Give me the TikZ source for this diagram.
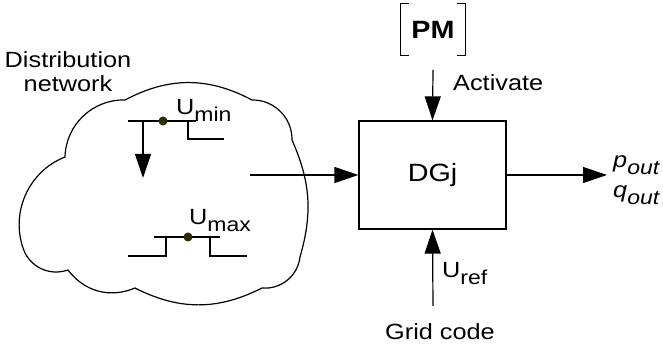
\documentclass[tikz,border=0pt]{standalone}
\usepackage{fontspec}
\setmainfont[FakeStretch=1.15]{Liberation Sans}
\usetikzlibrary{arrows.meta, positioning}
\definecolor{dotcol}{RGB}{45,42,0}
\newcommand{\lowsub}[1]{\raisebox{-7pt}{\fontsize{20}{20}\selectfont #1}}

\begin{document}
\begin{tikzpicture}[x=1pt, y=1pt,
      txt/.style={font=\fontsize{22}{24}\selectfont, inner sep=0pt},
      arr/.style={-{Triangle[length=24pt, width=16pt]}, line width=1.2pt},
      wire/.style={line width=1.2pt},
      busdot/.style={circle, fill=dotcol, inner sep=0pt, minimum size=9pt}
    ]
      \useasboundingbox (0,0) rectangle (663,347);
      % distribution network
      \draw[wire] (125,247) to[bend left=28] (252,247) to[bend left=46] (292,207)
                  to[bend left=20] (300,90) to[bend left=44] (262,59)
                  to[bend left=27] (135,59) to[bend left=38] (68,77)
                  to[bend left=40] (25,94) to[bend left=46] (65,190)
                  to[bend left=45] cycle;
      \node[txt, align=center] (netlbl) at (68,275) {Distribution\\network};
      % U_min bus
      \draw[wire] (128,226) -- (196,226) (188,226) -- (188,208) -- (224,208);
      \node[busdot] (dmin) at (163,226) {};
      \node[txt, anchor=base west] (umin) at (176,232) {U\lowsub{min}};
      \coordinate (fall) at (143,226);
      \coordinate (fallend) at (143,169);
      \draw[arr] (fall) -- (fallend);
      % U_max bus
      \draw[wire] (128,91) -- (166,91) -- (166,110) -- (154,110) -- (220,110)
                  (210,110) -- (210,91) -- (247,91);
      \node[busdot] (dmax) at (188,110) {};
      \node[txt, anchor=base west] (umax) at (189,122) {U\lowsub{max}};
      % DG unit
      \node[draw, line width=1.2pt, minimum width=147pt, minimum height=108pt,
            font=\fontsize{25}{27}\selectfont] (dg) at (432.5,172) {DGj};
      \coordinate (netout) at (250,172);
      \draw[arr] (netout) -- (dg.west);
      % PM on top
      \node[font=\bfseries\fontsize{25}{27}\selectfont, minimum width=64pt, minimum height=51pt,
            inner sep=0pt] (pm) at (433,317.5) {PM};
      \draw[line width=1pt] ([xshift=8pt]pm.north west) -- (pm.north west) -- (pm.south west) -- ++(8,0);
      \draw[line width=1pt] ([xshift=-8pt]pm.north east) -- (pm.north east) -- (pm.south east) -- ++(-8,0);
      \coordinate (act) at (433,277);
      \draw[arr] (act) -- (dg.north);
      \node[txt, anchor=west] (actlbl) at (453,264) {Activate};
      % grid code below
      \node[txt] (grid) at (440,15) {Grid code};
      \coordinate (gridin) at (433,41);
      \draw[arr] (gridin) -- (dg.south);
      \node[txt, anchor=base west] (uref) at (442,69) {U\lowsub{ref}};
      % output
      \node[txt, anchor=west, align=left, font=\itshape\fontsize{22}{30}\selectfont] (pq) at (613,167)
            {p\lowsub{out}\\q\lowsub{out}};
      \draw[arr, shorten >=6pt] (dg.east) -- (dg.east -| pq.west);
    \end{tikzpicture}
\end{document}
